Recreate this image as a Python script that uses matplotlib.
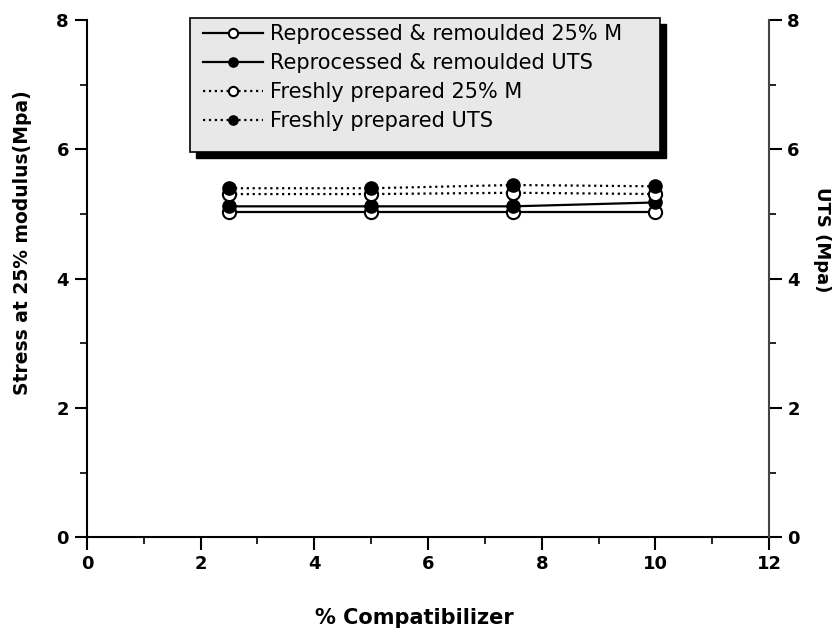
import matplotlib
matplotlib.use("Agg")
import matplotlib.pyplot as plt
from matplotlib.patches import Rectangle
from matplotlib.ticker import MultipleLocator

# % compatibilizer and the four property series (MPa)
compat = [2.5, 5.0, 7.5, 10.0]
rep_25m = [5.03, 5.03, 5.03, 5.03]
rep_uts = [5.12, 5.12, 5.12, 5.18]
fresh_25m = [5.31, 5.31, 5.33, 5.31]
fresh_uts = [5.40, 5.40, 5.45, 5.43]

labels = ["Reprocessed & remoulded 25% M", "Reprocessed & remoulded UTS",
          "Freshly prepared 25% M", "Freshly prepared UTS"]

W, H = 836, 632
fig = plt.figure(figsize=(W / 100, H / 100), dpi=100)
ax = fig.add_axes([0.104, 0.150, 0.816, 0.818])

ms = 9.5
h1, = ax.plot(compat, rep_25m, "-", color="black", lw=1.6, marker="o", ms=ms, mfc="white", mec="black", mew=1.5)
h2, = ax.plot(compat, rep_uts, "-", color="black", lw=1.6, marker="o", ms=ms, mfc="black", mec="black")
h3, = ax.plot(compat, fresh_25m, ":", color="black", lw=1.6, marker="o", ms=ms, mfc="white", mec="black", mew=1.5)
h4, = ax.plot(compat, fresh_uts, ":", color="black", lw=1.6, marker="o", ms=ms, mfc="black", mec="black")

ax.set_xlim(0, 12)
ax.set_ylim(0, 8)
ax.xaxis.set_major_locator(MultipleLocator(2))
ax.xaxis.set_minor_locator(MultipleLocator(1))
ax.yaxis.set_major_locator(MultipleLocator(2))
ax.yaxis.set_minor_locator(MultipleLocator(1))
ax.spines["top"].set_visible(False)
ax.spines["right"].set_visible(False)
for s in ("left", "bottom"):
    ax.spines[s].set_linewidth(1.5)
ax.tick_params(which="major", direction="out", length=9, width=1.5, labelsize=13, pad=4)
ax.tick_params(which="minor", direction="out", length=5, width=1.2)
for t in ax.get_xticklabels() + ax.get_yticklabels():
    t.set_fontweight("bold")

ax2 = ax.twinx()
ax2.set_ylim(0, 8)
ax2.yaxis.set_major_locator(MultipleLocator(2))
ax2.yaxis.set_minor_locator(MultipleLocator(1))
for s in ("top", "left", "bottom"):
    ax2.spines[s].set_visible(False)
ax2.spines["right"].set_linewidth(1.5)
ax2.spines["right"].set_color("#444444")
ax2.tick_params(which="major", direction="out", length=9, width=1.5, labelsize=13, pad=4)
ax2.tick_params(which="minor", direction="out", length=5, width=1.2)
for t in ax2.get_yticklabels():
    t.set_fontweight("bold")

ax.set_xlabel("% Compatibilizer", fontsize=15, fontweight="bold", va="center")
ax.xaxis.set_label_coords(0.48, -0.157)
ax.set_ylabel("Stress at 25% modulus(Mpa)", fontsize=13.5, fontweight="bold", va="center")
ax.yaxis.set_label_coords(-0.094, 0.57)
ax2.set_ylabel("UTS (Mpa)", fontsize=13, fontweight="bold", rotation=270, va="center")
ax2.yaxis.set_label_coords(1.077, 0.575)

# legend box with a solid drop shadow
bx0, by0, bx1, by1 = 190, 18, 660, 152
fig.patches.append(Rectangle(((bx0 + 6) / W, 1 - (by1 + 6) / H), (bx1 - bx0) / W, (by1 - by0) / H,
                             transform=fig.transFigure, facecolor="black", edgecolor="black", zorder=3))
fig.patches.append(Rectangle((bx0 / W, 1 - by1 / H), (bx1 - bx0) / W, (by1 - by0) / H,
                             transform=fig.transFigure, facecolor="#e8e8e8", edgecolor="black", lw=1.2, zorder=4))
leg = fig.legend([h1, h2, h3, h4], labels, loc="upper left", bbox_to_anchor=(203 / W, 1 - 24 / H),
                 fontsize=15, frameon=False, handlelength=2.9, handletextpad=0.3, markerscale=0.7,
                 borderpad=0, labelspacing=0.43, borderaxespad=0)
leg.set_zorder(5)

fig.savefig("out.png", dpi=100)
